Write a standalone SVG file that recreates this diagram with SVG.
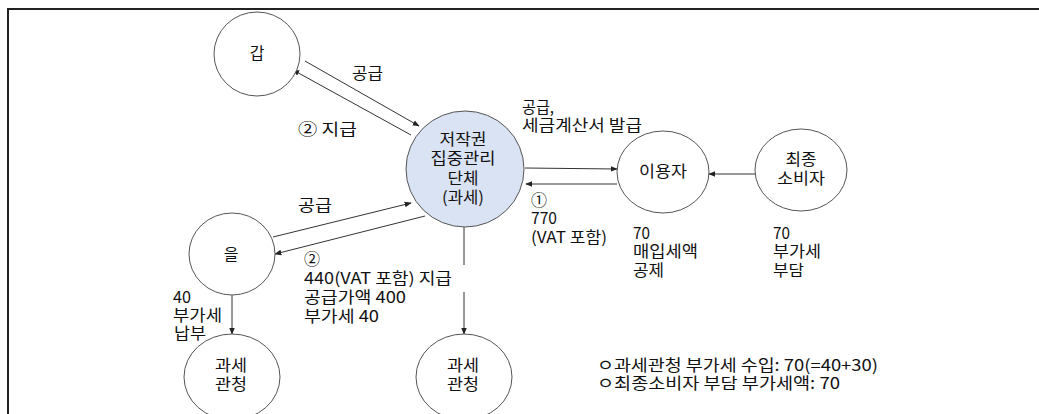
<svg xmlns="http://www.w3.org/2000/svg" width="1039" height="414" viewBox="0 0 1039 414">
<defs>
<style>
.n{fill:#fff;stroke:#555;stroke-width:1}
.c{fill:#dae3f3;stroke:#555;stroke-width:1}
.t{font-family:"Noto Sans CJK KR","Noto Sans",sans-serif;font-size:16px;fill:#111}
.m{text-anchor:middle}
.e{fill:none;stroke:#333;stroke-width:1;marker-end:url(#a)}
</style>
<marker id="a" viewBox="0 0 10 10" refX="9" refY="5" markerWidth="7" markerHeight="7" orient="auto" markerUnits="userSpaceOnUse">
<path d="M0,1 L10,5 L0,9 Z" fill="#222"/>
</marker>
</defs>
<rect width="1039" height="414" fill="#fff"/>
<path d="M8 414 V9 H1039" fill="none" stroke="#222" stroke-width="2"/>

<g id="connectors">
<line class="e" x1="305" y1="61" x2="419" y2="126"/>
<line class="e" x1="411" y1="135" x2="293" y2="70"/>
<line class="e" x1="525" y1="168" x2="617" y2="169"/>
<line class="e" x1="617" y1="184" x2="526" y2="184"/>
<line class="e" x1="755" y1="174" x2="709" y2="174"/>
<line class="e" x1="273" y1="237" x2="411" y2="203"/>
<line class="e" x1="425" y1="216" x2="275" y2="254"/>
<line class="e" x1="232" y1="295" x2="232" y2="334"/>
<line x1="464" y1="227" x2="464" y2="265" stroke="#333" stroke-width="1"/>
<line class="e" x1="464" y1="292" x2="464" y2="334"/>
</g>

<g id="gap">
<ellipse class="n" cx="257" cy="54" rx="43" ry="42"/>
<text class="t m" x="257" y="59">갑</text>
</g>
<g id="center">
<ellipse class="c" cx="465" cy="169" rx="59" ry="58"/>
<text class="t m" x="463" y="145" textLength="47" lengthAdjust="spacingAndGlyphs">저작권</text>
<text class="t m" x="463" y="164" textLength="65" lengthAdjust="spacingAndGlyphs">집중관리</text>
<text class="t m" x="463" y="184" textLength="31" lengthAdjust="spacingAndGlyphs">단체</text>
<text class="t m" x="463" y="203" textLength="42" lengthAdjust="spacingAndGlyphs">(과세)</text>
</g>
<g id="user">
<ellipse class="n" cx="663" cy="172" rx="46" ry="41"/>
<text class="t m" x="663" y="177" textLength="48" lengthAdjust="spacingAndGlyphs">이용자</text>
</g>
<g id="consumer">
<ellipse class="n" cx="801" cy="170" rx="46" ry="41"/>
<text class="t m" x="801" y="165" textLength="31" lengthAdjust="spacingAndGlyphs">최종</text>
<text class="t m" x="801" y="184" textLength="48" lengthAdjust="spacingAndGlyphs">소비자</text>
</g>
<g id="eul">
<ellipse class="n" cx="232" cy="254" rx="43" ry="41"/>
<text class="t m" x="231" y="260">을</text>
</g>
<g id="tax1">
<ellipse class="n" cx="232" cy="377" rx="48" ry="43"/>
<text class="t m" x="231" y="371" textLength="32" lengthAdjust="spacingAndGlyphs">과세</text>
<text class="t m" x="231" y="390" textLength="32" lengthAdjust="spacingAndGlyphs">관청</text>
</g>
<g id="tax2">
<ellipse class="n" cx="464" cy="377" rx="48" ry="43"/>
<text class="t m" x="463" y="371" textLength="32" lengthAdjust="spacingAndGlyphs">과세</text>
<text class="t m" x="463" y="390" textLength="32" lengthAdjust="spacingAndGlyphs">관청</text>
</g>

<g id="labels">
<text class="t" x="352" y="79" textLength="31" lengthAdjust="spacingAndGlyphs">공급</text>
<text class="t" x="298" y="135" textLength="59" lengthAdjust="spacingAndGlyphs">②  지급</text>
<text class="t" x="522" y="113" textLength="32" lengthAdjust="spacingAndGlyphs">공급,</text>
<text class="t" x="522" y="131" textLength="120" lengthAdjust="spacingAndGlyphs">세금계산서 발급</text>
<text class="t" x="531" y="206">①</text>
<text class="t" x="531" y="224" textLength="26" lengthAdjust="spacingAndGlyphs">770</text>
<text class="t" x="531" y="243" textLength="76" lengthAdjust="spacingAndGlyphs">(VAT 포함)</text>
<text class="t" x="633" y="239" textLength="17" lengthAdjust="spacingAndGlyphs">70</text>
<text class="t" x="633" y="257" textLength="65" lengthAdjust="spacingAndGlyphs">매입세액</text>
<text class="t" x="633" y="276" textLength="31" lengthAdjust="spacingAndGlyphs">공제</text>
<text class="t" x="773" y="239" textLength="17" lengthAdjust="spacingAndGlyphs">70</text>
<text class="t" x="773" y="257" textLength="48" lengthAdjust="spacingAndGlyphs">부가세</text>
<text class="t" x="773" y="276" textLength="31" lengthAdjust="spacingAndGlyphs">부담</text>
<text class="t" x="298" y="211" textLength="34" lengthAdjust="spacingAndGlyphs">공급</text>
<text class="t" x="304" y="265">②</text>
<text class="t" x="304" y="284" textLength="148" lengthAdjust="spacingAndGlyphs">440(VAT 포함) 지급</text>
<text class="t" x="304" y="303" textLength="102" lengthAdjust="spacingAndGlyphs">공급가액 400</text>
<text class="t" x="304" y="322" textLength="75" lengthAdjust="spacingAndGlyphs">부가세 40</text>
<text class="t" x="173" y="303" textLength="18" lengthAdjust="spacingAndGlyphs">40</text>
<text class="t" x="173" y="321" textLength="49" lengthAdjust="spacingAndGlyphs">부가세</text>
<text class="t" x="174" y="339" textLength="32" lengthAdjust="spacingAndGlyphs">납부</text>
<text class="t" x="597" y="371" textLength="281" lengthAdjust="spacingAndGlyphs">ㅇ과세관청 부가세 수입: 70(=40+30)</text>
<text class="t" x="597" y="389" textLength="243" lengthAdjust="spacingAndGlyphs">ㅇ최종소비자 부담 부가세액: 70</text>
</g>
</svg>
